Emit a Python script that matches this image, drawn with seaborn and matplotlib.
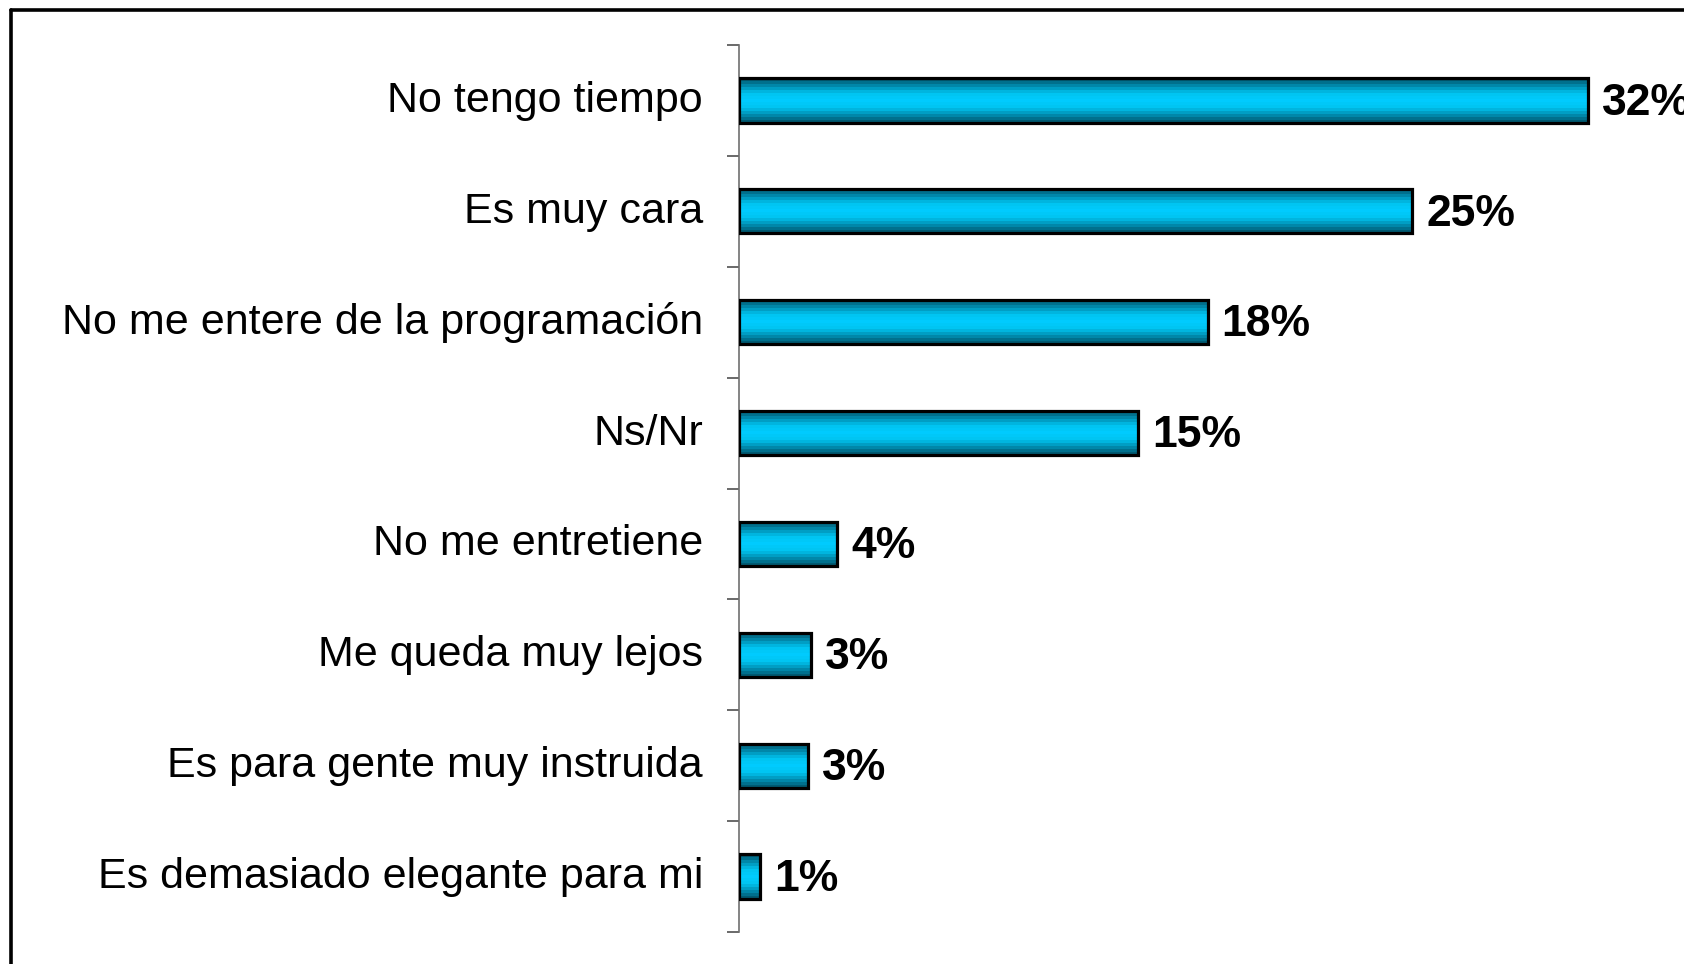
import numpy as np
import pandas as pd
import matplotlib
matplotlib.use("Agg")
import matplotlib.pyplot as plt
from matplotlib.colors import LinearSegmentedColormap
from matplotlib.lines import Line2D
from matplotlib.transforms import ScaledTranslation
import seaborn as sns

# Data
categories = [
    "No tengo tiempo",
    "Es muy cara",
    "No me entere de la programación",
    "Ns/Nr",
    "No me entretiene",
    "Me queda muy lejos",
    "Es para gente muy instruida",
    "Es demasiado elegante para mi",
]
values = [31.9, 25.3, 17.6, 15.0, 3.7, 2.7, 2.6, 0.8]
labels = ["32%", "25%", "18%", "15%", "4%", "3%", "3%", "1%"]

df = pd.DataFrame({"motivo": categories, "pct": values})

sns.set_style("white")
plt.rcParams["font.family"] = ["Liberation Sans", "DejaVu Sans"]
plt.rcParams["text.color"] = "black"
plt.rcParams["ytick.labelcolor"] = "black"

fig = plt.figure(figsize=(16.84, 9.64), dpi=100)
ax = fig.add_axes([739 / 1684, 1 - 932 / 964, 1 - 739 / 1684, (932 - 45) / 964])

sns.barplot(data=df, x="pct", y="motivo", orient="h", width=0.40,
            color="#00c8f8", edgecolor="black", linewidth=2.3, ax=ax)

# banded cyan gradient inside each bar
cmap = LinearSegmentedColormap.from_list(
    "cyanbar", ["#005a72", "#0090b4", "#00c4f0", "#00ccff",
                "#00c4f0", "#0090b4", "#005a72"])
grad = np.linspace(0, 1, 15).reshape(-1, 1)
for p in ax.patches:
    x0, y0 = p.get_x(), p.get_y()
    w, h = p.get_width(), p.get_height()
    im = ax.imshow(grad, cmap=cmap, aspect="auto", interpolation="nearest",
                   extent=(x0, x0 + w, y0 + h, y0), zorder=p.get_zorder())
    im.set_clip_path(p)
    p.set_facecolor("none")
    p.set_zorder(3)

ax.set_xlim(0, 35.5)
ax.set_ylim(len(categories) - 0.5, -0.5)

# value labels
for p, lab in zip(ax.patches, labels):
    ax.annotate(lab, (p.get_x() + p.get_width(), p.get_y() + p.get_height() / 2),
                xytext=(10, -2), textcoords="offset points", va="center",
                ha="left", fontsize=32, fontweight="bold", color="black",
                annotation_clip=False)

# spines and ticks
for s in ["top", "right", "bottom"]:
    ax.spines[s].set_visible(False)
ax.spines["left"].set_color("#707070")
ax.spines["left"].set_linewidth(1.2)
ax.set_xticks([])
ax.set_yticks(range(len(categories)))
ax.set_yticklabels(categories, fontsize=31)
ax.set_yticks(np.arange(-0.5, len(categories), 1.0), minor=True)
ax.tick_params(axis="y", which="major", length=0, pad=26)
ax.tick_params(axis="y", which="minor", length=9, width=1.2, color="#505050",
               direction="out", left=True)
up = ScaledTranslation(0, 4 / 100, fig.dpi_scale_trans)
for lbl in ax.get_yticklabels():
    lbl.set_transform(lbl.get_transform() + up)
ax.set_xlabel("")
ax.set_ylabel("")

# outer frame (cut off at right and bottom)
fw, fh = 1684, 964
fig.add_artist(Line2D([11 / fw, 11 / fw], [0, 1 - 10 / fh], color="black",
                      linewidth=2.6, transform=fig.transFigure))
fig.add_artist(Line2D([11 / fw, 1], [1 - 10 / fh, 1 - 10 / fh], color="black",
                      linewidth=2.6, transform=fig.transFigure))

fig.savefig("out.png", dpi=100)
